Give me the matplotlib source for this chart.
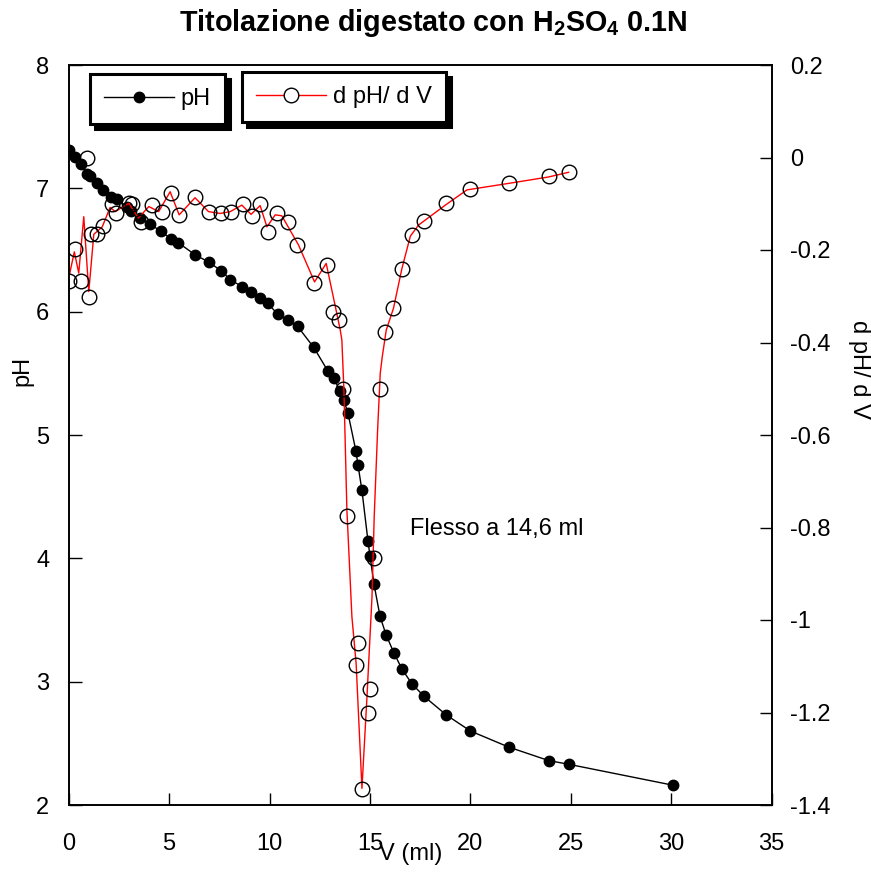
import matplotlib
matplotlib.use("Agg")
import matplotlib.pyplot as plt
from matplotlib.lines import Line2D

plt.rcParams['font.family'] = ['Liberation Sans', 'DejaVu Sans']
plt.rcParams['axes.unicode_minus'] = False
plt.rcParams['mathtext.fontset'] = 'custom'
plt.rcParams['mathtext.rm'] = 'Liberation Sans'
plt.rcParams['mathtext.bf'] = 'Liberation Sans:bold'

# ---- data ----
v_ph = [0, 0.3, 0.6, 0.9, 1.05, 1.4, 1.7, 2.1, 2.4, 2.9, 3.1, 3.55, 4.05, 4.6, 5.1,
        5.45, 6.3, 7.0, 7.6, 8.05, 8.65, 9.1, 9.5, 9.9, 10.4, 10.9, 11.4, 12.2, 12.9,
        13.2, 13.5, 13.7, 13.9, 14.3, 14.4, 14.6, 14.9, 15.0, 15.2, 15.5, 15.8, 16.2,
        16.6, 17.1, 17.7, 18.8, 20.0, 21.9, 23.9, 24.9, 30.1]
ph = [7.31, 7.25, 7.20, 7.12, 7.10, 7.04, 6.99, 6.93, 6.91, 6.85, 6.82, 6.76, 6.71,
      6.65, 6.59, 6.56, 6.46, 6.40, 6.33, 6.26, 6.20, 6.16, 6.11, 6.07, 5.98, 5.93,
      5.88, 5.71, 5.52, 5.46, 5.36, 5.28, 5.18, 4.87, 4.76, 4.55, 4.14, 4.02, 3.79,
      3.53, 3.38, 3.23, 3.10, 2.98, 2.88, 2.73, 2.60, 2.47, 2.36, 2.33, 2.16]

v_der = [0, 0.3, 0.6, 0.9, 1.03, 1.13, 1.41, 1.69, 2.16, 2.37, 2.99, 3.14, 3.6, 4.15,
         4.65, 5.08, 5.48, 6.28, 6.98, 7.59, 8.07, 8.67, 9.12, 9.5, 9.9, 10.39, 10.91,
         11.39, 12.19, 12.88, 13.18, 13.48, 13.65, 13.88, 14.31, 14.38, 14.58, 14.88,
         14.98, 15.21, 15.48, 15.77, 16.17, 16.59, 17.09, 17.7, 18.8, 19.96, 21.9,
         23.9, 24.89]
der = [-0.266, -0.198, -0.266, 0.0, -0.301, -0.166, -0.166, -0.148, -0.101, -0.121,
       -0.099, -0.101, -0.140, -0.103, -0.117, -0.076, -0.125, -0.085, -0.117, -0.121,
       -0.117, -0.101, -0.126, -0.101, -0.160, -0.119, -0.139, -0.189, -0.272, -0.232,
       -0.333, -0.351, -0.500, -0.775, -1.097, -1.050, -1.366, -1.200, -1.150, -0.867,
       -0.500, -0.377, -0.326, -0.240, -0.168, -0.137, -0.099, -0.069, -0.056, -0.040,
       -0.032]

v_der_line = [0.0, 0.28, 0.5, 0.75, 1.0, 1.25, 1.67, 2.06, 2.32, 2.99, 3.47, 3.99, 4.48,
              5.05, 5.5, 6.29, 6.96, 7.54, 8.04, 8.62, 9.08, 9.53, 9.87, 10.28, 10.61,
              11.44, 12.24, 12.82, 13.38, 13.52, 13.6, 13.7, 13.85, 14.1, 14.31, 14.6,
              14.85, 15.1, 15.21, 15.38, 15.51, 15.61, 15.81, 16.17, 16.59, 17.01, 17.42,
              18.75, 19.83, 21.9, 23.9, 24.89]
der_line = [-0.261, -0.204, -0.250, -0.128, -0.290, -0.166, -0.150, -0.108, -0.117,
            -0.099, -0.131, -0.106, -0.117, -0.074, -0.124, -0.087, -0.117, -0.121,
            -0.117, -0.103, -0.123, -0.104, -0.150, -0.124, -0.126, -0.189, -0.269,
            -0.229, -0.344, -0.373, -0.395, -0.500, -0.762, -0.993, -1.094, -1.364,
            -1.166, -0.950, -0.777, -0.589, -0.467, -0.431, -0.373, -0.326, -0.240,
            -0.170, -0.146, -0.103, -0.070, -0.056, -0.042, -0.032]

x_ticks = [0, 5, 10, 15, 20, 25, 30, 35]
ph_ticks = [2, 3, 4, 5, 6, 7, 8]
der_ticks = [0.2, 0, -0.2, -0.4, -0.6, -0.8, -1, -1.2, -1.4]

title_text = r'Titolazione digestato con H$_\mathbf{2}$SO$_\mathbf{4}$ 0.1N'
annot_text = 'Flesso a 14,6 ml'

# ---- figure ----
W, H = 871, 882
fig = plt.figure(figsize=(W / 100, H / 100), dpi=100)
L, R, T, B = 68.7, 771.7, 65, 805
ax = fig.add_axes([L / W, 1 - B / H, (R - L) / W, (B - T) / H])
ax2 = ax.twinx()

fs = 17
ax.plot(v_ph, ph, color='black', lw=1, marker='o', ms=7.5, mfc='black', mec='black',
        zorder=3)
ax.set_xlim(0, 35)
ax.set_ylim(2, 8)
ax.set_xticks(x_ticks)
ax.set_yticks(ph_ticks)
ax.set_xticklabels([str(t) for t in x_ticks])
ax.set_yticklabels([str(t) for t in ph_ticks])

ax2.plot(v_der_line, der_line, color='red', lw=1, zorder=2)
ax2.plot(v_der, der, ls='none', marker='o', ms=10.5, mfc='none', mec='black', mew=1,
         zorder=3)
ax2.set_ylim(-1.4, 0.2)
ax2.set_yticks(der_ticks)
ax2.set_yticklabels([('%g' % t) for t in der_ticks])

for a in (ax, ax2):
    for s in a.spines.values():
        s.set_linewidth(1.2)
        s.set_color('black')
ax.tick_params(axis='both', direction='in', length=9, width=1, labelsize=fs,
               top=False, right=False)
ax.tick_params(axis='y', pad=14)
ax.tick_params(axis='x', pad=20)
ax2.tick_params(axis='y', direction='in', length=9, width=1, labelsize=fs, pad=13)

ax.set_xlabel('V (ml)', fontsize=fs)
ax.xaxis.set_label_coords(0.487, -0.052)
ax.set_ylabel('pH', fontsize=fs)
ax.yaxis.set_label_coords(-0.0508, 0.5865)
ax2.set_ylabel('d pH/ d V', fontsize=fs, rotation=270, va='center')
ax2.yaxis.set_label_coords(1.1235, 0.589)

ax.text(16.97, 4.24, annot_text, fontsize=fs, ha='left', va='center')

fig.text(433.5 / W, 1 - 23 / H, title_text, fontsize=20.7, fontweight='bold',
         ha='center', va='center')

# legends (two separate boxes with hard shadow)
h1 = Line2D([], [], color='black', lw=1, marker='o', ms=7.5, mfc='black', mec='black')
h2 = Line2D([], [], color='red', lw=1, marker='o', ms=10.5, mfc='white', mec='black')
shadow = {'ox': 3.6, 'oy': -3.6, 'color': 'black', 'alpha': 1}
common = dict(fontsize=fs, frameon=True, fancybox=False, shadow=shadow,
              borderaxespad=0, handlelength=2.95, handletextpad=0.3,
              borderpad=0.6, loc='upper left')
leg1 = ax2.legend([h1], ['pH'], bbox_to_anchor=((90 - L) / (R - L), 1 - (74 - T) / (B - T)),
                  **common)
leg1.get_frame().set_edgecolor('black')
leg1.get_frame().set_linewidth(2.2)
ax2.add_artist(leg1)
leg2 = ax2.legend([h2], ['d pH/ d V'],
                  bbox_to_anchor=((241.7 - L) / (R - L), 1 - (71.7 - T) / (B - T)),
                  **common)
leg2.get_frame().set_edgecolor('black')
leg2.get_frame().set_linewidth(2.2)

fig.savefig('out.png', dpi=100)
